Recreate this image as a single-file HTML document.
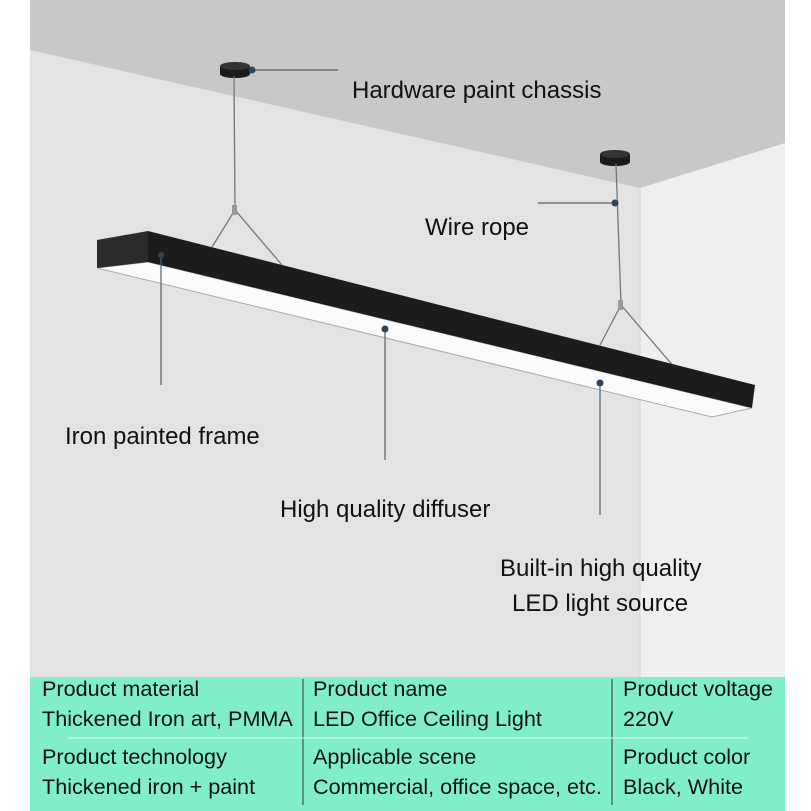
<!DOCTYPE html>
<html><head><meta charset="utf-8"><style>
body{margin:0;background:#fff;}
#c{position:relative;width:811px;height:811px;overflow:hidden;font-family:"Liberation Sans",sans-serif;}
.t{position:absolute;color:#111;font-size:24px;line-height:28px;white-space:nowrap;}
.g{position:absolute;font-size:21.6px;line-height:24px;color:#111;white-space:nowrap;}
</style></head><body><div id="c">
<svg width="811" height="811" style="position:absolute;left:0;top:0">
<rect x="30" y="0" width="755" height="678" fill="#e3e3e3"/>
<polygon points="640,188 785,143 785,678 640,678" fill="#efefef"/>
<polygon points="30,0 785,0 785,143 640,188 30,50" fill="#c8c8c8"/>
<line x1="640" y1="188" x2="640" y2="678" stroke="#d6d6d6"/>
<!-- chassis -->
<rect x="220" y="66" width="30" height="8" fill="#1a1a1a"/>
<ellipse cx="235" cy="66" rx="15" ry="4" fill="#333"/>
<ellipse cx="235" cy="74" rx="15" ry="4" fill="#1a1a1a"/>
<rect x="600" y="154" width="30" height="8" fill="#1a1a1a"/>
<ellipse cx="615" cy="154" rx="15" ry="4" fill="#333"/>
<ellipse cx="615" cy="162" rx="15" ry="4" fill="#1a1a1a"/>
<g stroke="#777" stroke-width="1.3" fill="none">
<polyline points="234,76 235,210"/><polyline points="212,247 235,210 282,265"/>
<polyline points="616,164 621,305"/><polyline points="600,345 621,305 675,368"/>
</g>
<rect x="232" y="205" width="5" height="10" fill="#999"/>
<rect x="618" y="300" width="5" height="10" fill="#999"/>
<!-- bar -->
<polygon points="97,268 148,262 752,408 712,417" fill="#fbfbfb" stroke="#aaa" stroke-width="1"/>
<polygon points="97,240 148,231 148,262 97,268" fill="#2b2b2b"/>
<polygon points="148,231 755,385 752,408 148,262" fill="#1c1c1c"/>
<!-- pointers -->
<g stroke="#4f6272" stroke-width="1.2">
<line x1="252" y1="70" x2="338" y2="70"/>
<line x1="538" y1="203" x2="615" y2="203"/>
<line x1="161" y1="255" x2="161" y2="385"/>
<line x1="385" y1="329" x2="385" y2="460"/>
<line x1="600" y1="383" x2="600" y2="515"/>
</g>
<g fill="#2d4459">
<circle cx="252" cy="70" r="3.5"/><circle cx="615" cy="203" r="3.5"/>
<circle cx="161" cy="255" r="3"/><circle cx="385" cy="329" r="3.5"/><circle cx="600" cy="383" r="3.5"/>
</g>
<rect x="30" y="677" width="755" height="134" fill="#80efc7"/>
<g stroke="#333" stroke-width="1"><line x1="303" y1="679" x2="303" y2="805"/><line x1="612" y1="679" x2="612" y2="805"/></g>
<line x1="68" y1="738" x2="748" y2="738" stroke="#e8f8f0" stroke-width="1"/>
</svg>
<div class="t" style="left:352px;top:77px">Hardware paint chassis</div>
<div class="t" style="left:425px;top:214px">Wire rope</div>
<div class="t" style="left:65px;top:423px">Iron painted frame</div>
<div class="t" style="left:280px;top:496px">High quality diffuser</div>
<div class="t" style="left:500px;top:555px">Built-in high quality</div>
<div class="t" style="left:512px;top:590px">LED light source</div>
<div class="g" style="left:42px;top:677px">Product material</div>
<div class="g" style="left:42px;top:707px">Thickened Iron art, PMMA</div>
<div class="g" style="left:313px;top:677px">Product name</div>
<div class="g" style="left:313px;top:707px">LED Office Ceiling Light</div>
<div class="g" style="left:623px;top:677px">Product voltage</div>
<div class="g" style="left:623px;top:707px">220V</div>
<div class="g" style="left:42px;top:745px">Product technology</div>
<div class="g" style="left:42px;top:775px">Thickened iron + paint</div>
<div class="g" style="left:313px;top:745px">Applicable scene</div>
<div class="g" style="left:313px;top:775px">Commercial, office space, etc.</div>
<div class="g" style="left:623px;top:745px">Product color</div>
<div class="g" style="left:623px;top:775px">Black, White</div>
</div></body></html>
